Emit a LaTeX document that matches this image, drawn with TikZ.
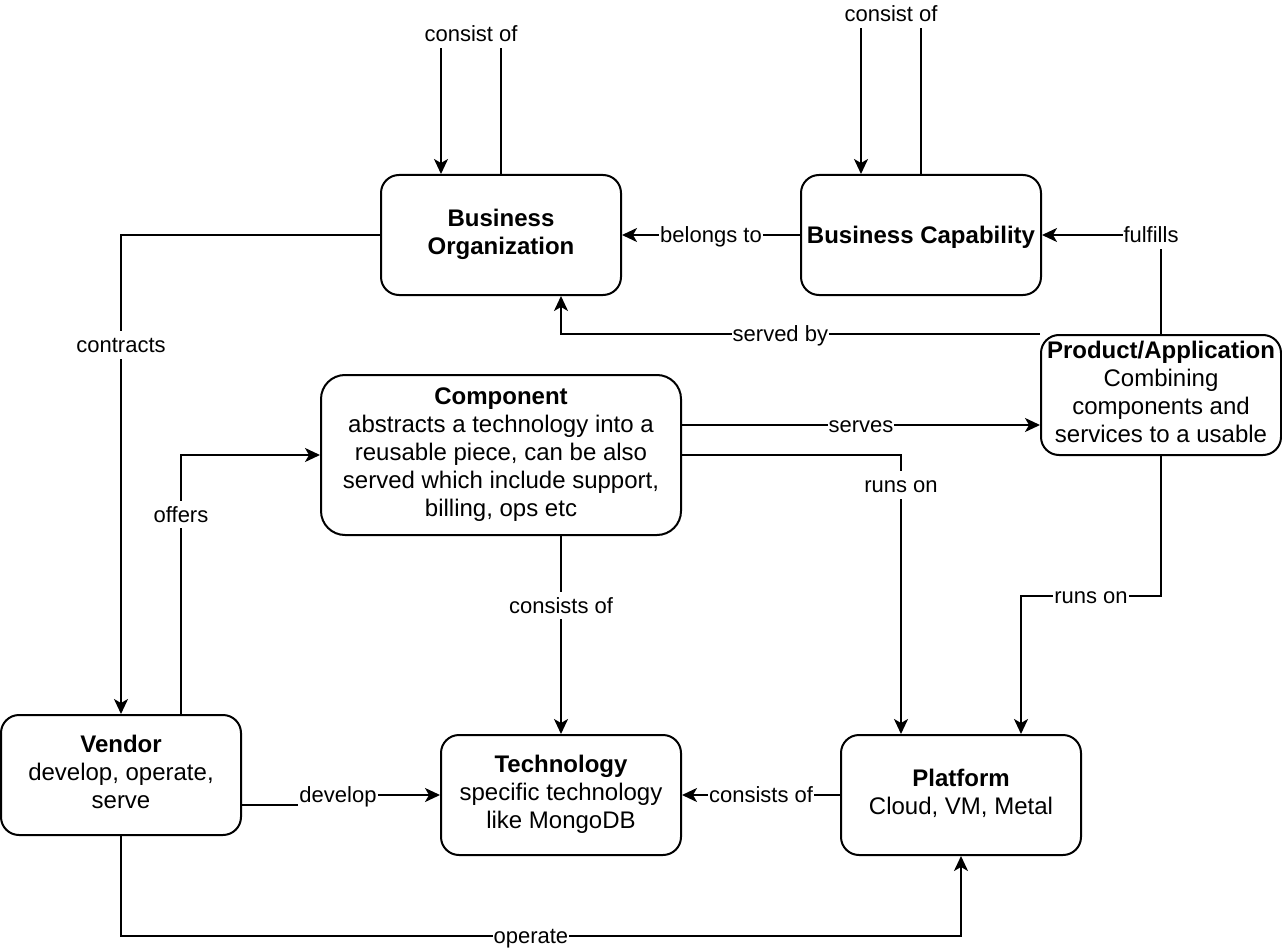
\documentclass[tikz,border=0pt]{standalone}
\usepackage{fontspec}
\setmainfont{Liberation Sans}
\usetikzlibrary{arrows.meta}
\newcommand\nodefont{\fontsize{24}{28}\selectfont}
\newcommand\edgefont{\fontsize{22}{26}\selectfont}
\newcommand\linestrut{\rule[-5.7pt]{0pt}{28pt}}
\begin{document}
\begin{tikzpicture}[x=1pt,y=-1pt,
  box/.style={draw, line width=2pt, rounded corners=18pt, minimum width=240pt, minimum height=120pt, align=center, font=\nodefont, inner sep=0pt, execute at begin node=\linestrut, execute at end node=\linestrut},
  arr/.style={line width=2pt, -{Stealth[length=15pt,width=14pt,inset=4pt]}},
  lbl/.style={fill=white, font=\edgefont, inner xsep=1pt, inner ysep=1pt, text height=20.5pt, text depth=5pt}]
\useasboundingbox (0,0) rectangle (1282,952);
% nodes
\node[box] (bo) at (501,235) {\textbf{Business}\\\textbf{Organization}};
\node[box] (bc) at (921,235) {\textbf{Business Capability}};
\node[box] (pa) at (1161,395) {\textbf{Product/Application}\\Combining\\components and\\services to a usable};
\node[box, minimum width=360pt, minimum height=160pt, rounded corners=24pt] (comp) at (501,455) {\textbf{Component}\\abstracts a technology into a\\reusable piece, can be also\\served which include support,\\billing, ops etc};
\node[box] (ven) at (121,775) {\textbf{Vendor}\\develop, operate,\\serve};
\node[box] (tech) at (561,795) {\textbf{Technology}\\specific technology\\like MongoDB};
\node[box] (plat) at (961,795) {\textbf{Platform}\\Cloud, VM, Metal};
% edges
\draw[arr] (bo.north) -- ++(0,-140) -- node[lbl]{consist of} ++(-60,0) -- ([xshift=-60pt]bo.north);
\draw[arr] (bc.north) -- ++(0,-160) -- node[lbl]{consist of} ++(-60,0) -- ([xshift=-60pt]bc.north);
\draw[arr] (bc.west) -- node[lbl]{belongs to} (bo.east);
\draw[arr] (pa.north) |- node[lbl,pos=0.542]{fulfills} (bc.east);
\draw[arr] (pa.north west) -| node[lbl,pos=0.271]{served by} ([xshift=60pt]bo.south);
\draw[arr] (bo.west) -| node[lbl,pos=0.615]{contracts} (ven.north);
\draw[arr] ([xshift=60pt]ven.north) |- node[lbl,pos=0.385]{offers} (comp.west);
\draw[arr] ([yshift=30pt]comp.east) -- node[lbl]{serves} ([yshift=-30pt]pa.west);
\draw[arr] (comp.east) -| node[lbl,pos=0.554]{runs on} ([xshift=-60pt]plat.north);
\draw[arr] (pa.south) -- ++(0,140) -| node[lbl,pos=0.25]{runs on} ([xshift=60pt]plat.north);
\draw[arr] ([xshift=60pt]comp.south) -- node[lbl,pos=0.35]{consists of} (tech.north);
\draw[arr] ([yshift=-30pt]ven.east) -- ++(96,0) |- node[lbl,pos=0.5]{develop} (tech.west);
\draw[arr] (plat.west) -- node[lbl]{consists of} (tech.east);
\draw[arr] (ven.south) -- ++(0,100) -| node[lbl,pos=0.244]{operate} (plat.south);
\end{tikzpicture}
\end{document}
